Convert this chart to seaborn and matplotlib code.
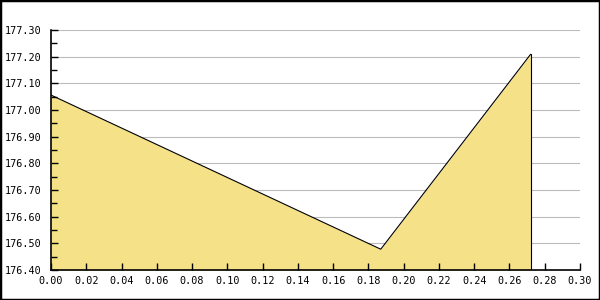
import matplotlib
matplotlib.use("Agg")
import matplotlib.pyplot as plt
import seaborn as sns
import numpy as np
from matplotlib.ticker import MultipleLocator, FormatStrFormatter
from matplotlib.patches import Rectangle

x_vals = [0.0, 0.187, 0.272]
y_vals = [177.056, 176.478, 177.209]
y_ticks = [176.40, 176.50, 176.60, 176.70, 176.80, 176.90, 177.00, 177.10, 177.20, 177.30]
x_ticks = [0.00, 0.02, 0.04, 0.06, 0.08, 0.10, 0.12, 0.14, 0.16, 0.18, 0.20, 0.22, 0.24, 0.26, 0.28, 0.30]

sns.set_style("white")
plt.rcParams['font.family'] = ['DejaVu Sans Mono', 'DejaVu Sans']

fig = plt.figure(figsize=(6, 3), dpi=100)
ax = fig.add_axes([51/600, 30/300, 529/600, 240/300])

# horizontal grid under the fill
ax.hlines(y_ticks[1:], 0, 0.30, colors="#BBBBBB", linewidth=0.8, zorder=1)
ax.fill_between(x_vals, y_vals, 176.40, color="#F5E187", linewidth=0, zorder=2)
sns.lineplot(x=x_vals, y=y_vals, ax=ax, color="black", linewidth=0.8, zorder=3)
ax.plot([x_vals[-1], x_vals[-1]], [176.40, y_vals[-1]], color="black", linewidth=0.8, zorder=3)

ax.set_xlim(0, 0.30)
ax.set_ylim(176.40, 177.30)
ax.set_xticks(x_ticks)
ax.set_yticks(y_ticks)
ax.xaxis.set_major_formatter(FormatStrFormatter("%.2f"))
ax.yaxis.set_major_formatter(FormatStrFormatter("%.2f"))
ax.yaxis.set_minor_locator(MultipleLocator(0.05))
ax.grid(False)
ax.xaxis.set_zorder(5)
ax.yaxis.set_zorder(5)
for s in ["top", "right"]:
    ax.spines[s].set_visible(False)
for s in ["left", "bottom"]:
    ax.spines[s].set_color("black")
    ax.spines[s].set_linewidth(1.2)
    ax.spines[s].set_zorder(6)
ax.tick_params(axis="x", which="major", bottom=True, top=False, direction="in",
               length=5, width=1, color="black", labelsize=7.3, labelcolor="black", pad=4)
ax.tick_params(axis="x", which="minor", bottom=False)
ax.tick_params(axis="y", which="major", left=True, right=False, direction="in",
               length=5, width=1, color="black", labelsize=7.3, labelcolor="black", pad=7)
ax.tick_params(axis="y", which="minor", left=True, right=False, direction="in",
               length=4, width=1, color="black")
ax.set_xlabel("")
ax.set_ylabel("")

fig.patches.append(Rectangle((0, 0), 1, 1, transform=fig.transFigure, fill=False,
                             edgecolor="black", linewidth=2.5, zorder=10))
fig.savefig("out.png", dpi=100, facecolor="white")
